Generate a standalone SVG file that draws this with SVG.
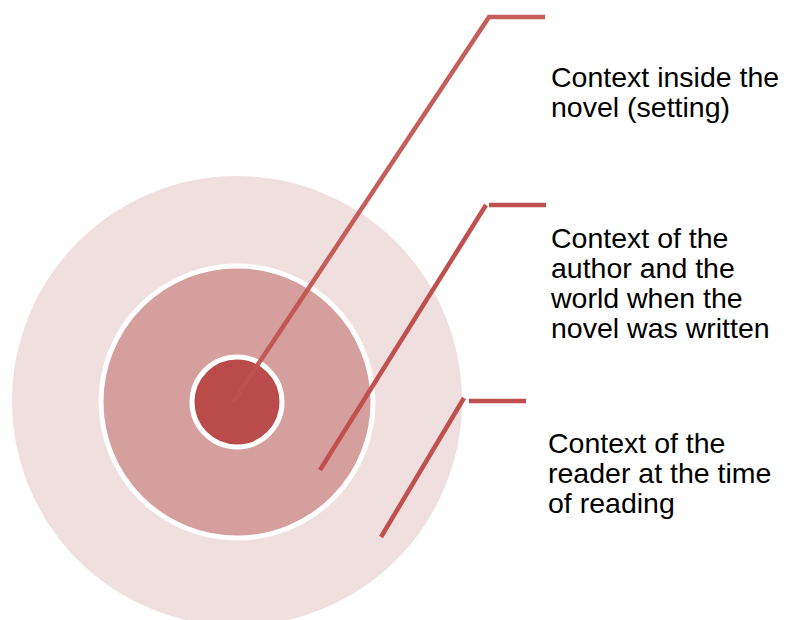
<svg xmlns="http://www.w3.org/2000/svg" width="786" height="620" viewBox="0 0 786 620">
<style>
.lbl{font-family:"Liberation Sans",Arial,sans-serif;font-size:28.5px;fill:#000}
.ln{stroke:#C0504D;stroke-width:4.5;fill:none}
</style>
<rect width="786" height="620" fill="#fff"/>
<g id="outer"><circle cx="237" cy="401" r="225" fill="#F0DFDF"/></g>
<g id="middle"><circle cx="237" cy="402" r="136" fill="#D59F9E" stroke="#fff" stroke-width="5"/></g>
<g id="inner"><circle cx="237" cy="402" r="45" fill="#B94C4A" stroke="#fff" stroke-width="5"/></g>
<g id="connectors">
<polyline class="ln" points="233,402 489,17 545,17" opacity="0.92"/>
<polyline class="ln" points="320,470 486,205"/>
<line class="ln" x1="489" y1="205" x2="546" y2="205"/>
<polyline class="ln" points="381,537 464,398"/>
<line class="ln" x1="469" y1="401" x2="526" y2="401"/>
</g>
<g id="label1"><text class="lbl" x="551" y="87">Context inside the</text><text class="lbl" x="551" y="117">novel (setting)</text></g>
<g id="label2"><text class="lbl" x="551" y="248">Context of the</text><text class="lbl" x="551" y="278">author and the</text><text class="lbl" x="551" y="308">world when the</text><text class="lbl" x="551" y="338">novel was written</text></g>
<g id="label3"><text class="lbl" x="548" y="453">Context of the</text><text class="lbl" x="548" y="483">reader at the time</text><text class="lbl" x="548" y="513">of reading</text></g>
</svg>
